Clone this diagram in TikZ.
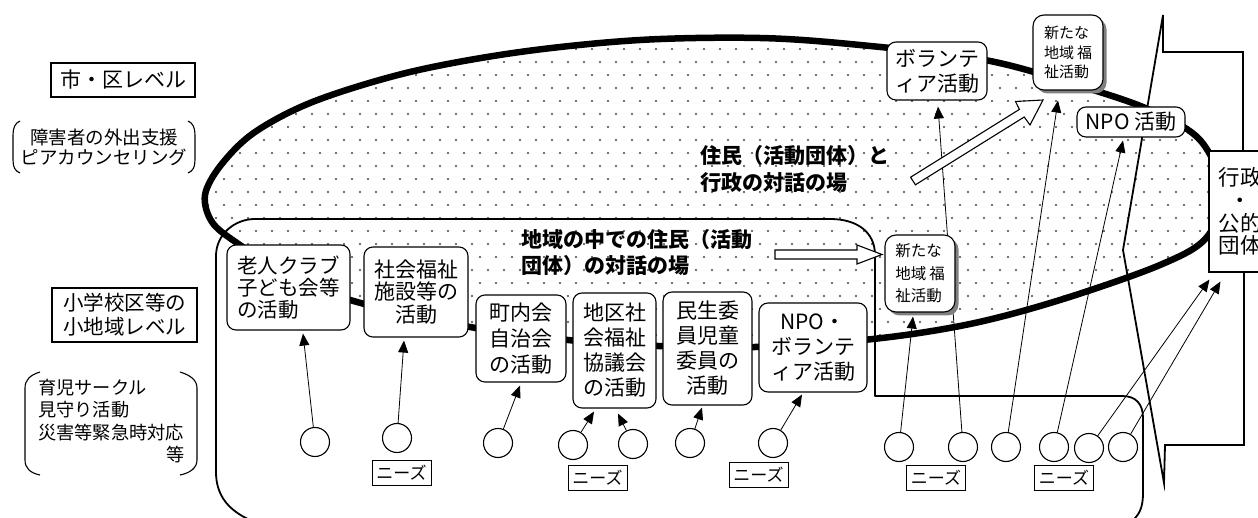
\documentclass[tikz,border=0pt]{standalone}
\usepackage{fontspec}
\setmainfont{Noto Sans CJK JP}
\usetikzlibrary{arrows.meta,shadows}
\pgfdeclarelayer{bg}
\pgfdeclarelayer{conn}
\pgfsetlayers{bg,conn,main}
\def\ellpath{plot[smooth cycle, tension=0.55] coordinates {(205,195) (221,165) (255,132) (315,101) (410,72) (520,52) (640,40) (760,38) (860,45) (985,60) (1080,86) (1150,110) (1200,140) (1222,190) (1207,237) (1160,265) (1060,300) (970,324) (873,339) (755,347) (658,346) (568,340) (470,327) (357,302) (290,276) (237,243) (212,222)}}
\begin{document}
\begin{tikzpicture}[x=1pt,y=-1pt,
  box/.style={draw, line width=1.1pt, rounded corners=9pt, fill=white, inner sep=0pt, align=center},
  shd/.style={general shadow={fill=black!50, shadow xshift=3.5pt, shadow yshift=-3.5pt}},
  plainbox/.style={draw, line width=1.1pt, fill=white, inner sep=0pt, align=center},
  needs/.style={draw, line width=1pt, fill=white, inner sep=0pt, minimum width=59pt, minimum height=25pt, font=\fontsize{17}{20}\selectfont},
  circ/.style={draw, circle, line width=1.1pt, fill=white, minimum size=29pt, inner sep=0pt},
  arr/.style={line width=0.8pt, -{Triangle[length=12pt,width=10pt]}},
  blk/.style={draw, line width=1.1pt, fill=white, line join=miter},
  brk/.style={line width=1.1pt},
  callout/.style={line width=1.8pt, line join=miter},
]
\useasboundingbox (0,0) rectangle (1258,518);

% ---------- background: dots, ellipse, inner region ----------
\begin{pgfonlayer}{bg}
\begin{scope}
\clip \ellpath;
\foreach \j in {0,...,24} {
  \pgfmathsetmacro\yy{36+13*\j}
  \pgfmathsetmacro\off{mod(\j,2)*8}
  \foreach \i in {0,...,64} {
    \fill[black!75] (200+\off+16*\i, \yy) circle[radius=1.2pt];
  }
}
\end{scope}
\draw[line width=6.5pt] \ellpath;
\draw[line width=1.8pt, line join=round]
  (875,396) -- (875,255) .. controls (875,232) and (857,219) .. (830,219)
  -- (255,219) .. controls (235,219) and (216,234) .. (216,256)
  -- (216,472) .. controls (216,495) and (228,510) .. (250,520)
  -- (260,530) -- (1125,530) -- (1133,520)
  .. controls (1140,514) and (1143,506) .. (1143,493)
  -- (1143,418) .. controls (1143,404) and (1136,396) .. (1122,396) -- cycle;
\end{pgfonlayer}

% ---------- left labels ----------
\node[plainbox, minimum width=144pt, minimum height=34pt, font=\fontsize{21}{24}\selectfont] (l1) at (123,80) {市・区レベル};
\node[align=center, inner sep=0pt, font=\fontsize{18.5}{20}\selectfont] (l2) at (104,147) {障害者の外出支援\\ピアカウンセリング};
\draw[brk] (20,121) .. controls (15,123) and (13,128) .. (13,135) -- (13,160) .. controls (13,167) and (15,171) .. (20,173);
\draw[brk] (188,121) .. controls (193,123) and (195,128) .. (195,135) -- (195,160) .. controls (195,167) and (193,171) .. (188,173);
\node[plainbox, minimum width=145pt, minimum height=54pt, font=\fontsize{20.5}{24}\selectfont] (l3) at (124.5,315) {小学校区等の\\小地域レベル};
\node[anchor=west, align=left, inner sep=0pt, font=\fontsize{18.2}{22.7}\selectfont] (l4) at (38,410) {育児サークル\\見守り活動\\災害等緊急時対応};
\node[anchor=east, inner sep=0pt, font=\fontsize{18.2}{22.7}\selectfont] (l5) at (185,455) {等};
\draw[brk] (40,372) .. controls (30,375) and (25,380) .. (25,388) -- (25,460) .. controls (25,468) and (30,473) .. (40,475);
\draw[brk] (180,372) .. controls (190,375) and (197,380) .. (197,388) -- (197,460) .. controls (197,468) and (190,473) .. (180,475);

% ---------- headings ----------
\node[anchor=west, align=left, inner sep=0pt, font=\bfseries\fontsize{21}{27}\selectfont] (h1) at (700,168.5) {住民（活動団体）と\\行政の対話の場};
\node[anchor=west, align=left, inner sep=0pt, font=\bfseries\fontsize{21}{26}\selectfont] (h2) at (521,253) {地域の中での住民（活動\\団体）の対話の場};

% ---------- activity boxes ----------
\node[box, minimum width=123pt, minimum height=85pt, align=left, font=\fontsize{20.5}{22}\selectfont] (b1) at (288.5,287.5) {老人クラブ\\子ども会等\\の活動};
\node[box, minimum width=104pt, minimum height=90pt, font=\fontsize{21}{22.5}\selectfont] (b2) at (416,292) {社会福祉\\施設等の\\活動};
\node[box, minimum width=90pt, minimum height=87pt, font=\fontsize{21}{26}\selectfont] (b3) at (521,338.5) {町内会\\自治会\\の活動};
\node[box, minimum width=83pt, minimum height=115pt, font=\fontsize{21}{25}\selectfont] (b4) at (614.5,350.5) {地区社\\会福祉\\協議会\\の活動};
\node[box, minimum width=89pt, minimum height=113pt, font=\fontsize{21}{25}\selectfont] (b5) at (707.5,348.5) {民生委\\員児童\\委員の\\活動};
\node[box, minimum width=108pt, minimum height=89pt, font=\fontsize{21}{25}\selectfont] (b6) at (813,347.5) {NPO・\\ボランテ\\ィア活動};
\node[box, shd, rounded corners=11pt, minimum width=70pt, minimum height=77pt, align=left, font=\fontsize{15.5}{22.5}\selectfont] (b7) at (920,273.5) {新たな\\地域\hspace{3pt}福\\祉活動};
\node[box, minimum width=100pt, minimum height=58pt, font=\fontsize{21}{25}\selectfont] (b8) at (937,71) {ボランテ\\ィア活動};
\node[box, shd, rounded corners=11pt, minimum width=70pt, minimum height=75pt, align=left, font=\fontsize{15}{19.5}\selectfont] (b9) at (1068,52.5) {新たな\\地域\hspace{3pt}福\\祉活動};
\node[box, minimum width=108pt, minimum height=30pt, font=\fontsize{21}{25}\selectfont] (b10) at (1131,122) {NPO 活動};
\node[plainbox, minimum width=62pt, minimum height=121pt, font=\fontsize{21.5}{22.7}\selectfont] (b11) at (1240,211.5) {行政\\・\\公的\\団体};

% ---------- block arrows ----------
\draw[blk] (775,250) -- (857,250) -- (857,245) -- (882,254.5) -- (857,264) -- (857,259) -- (775,259) -- cycle;
\draw[blk] (910.6,177.2) -- (1019.4,109.4) -- (1015.5,101.5) -- (1043,100) -- (1030,125) -- (1024.2,117.0) -- (915.4,184.8) -- cycle;

% ---------- residents (circles) and needs ----------
\node[circ] (c1) at (315,442) {};
\node[circ] (c2) at (397,438) {};
\node[circ] (c3) at (498,443) {};
\node[circ] (c4) at (573,445) {};
\node[circ] (c5) at (633,444) {};
\node[circ] (c6) at (690,443) {};
\node[circ] (c7) at (773,443) {};
\node[circ] (c8) at (899,447) {};
\node[circ] (c9) at (963,447) {};
\node[circ] (c10) at (1006,447) {};
\node[circ] (c11) at (1054,447) {};
\node[circ] (c12) at (1089,448) {};
\node[circ] (c13) at (1123,447) {};

\node[needs] (n1) at (401.5,473) {ニーズ};
\node[needs] (n2) at (597.5,477.5) {ニーズ};
\node[needs] (n3) at (758.5,474.5) {ニーズ};
\node[needs] (n4) at (936,478) {ニーズ};
\node[needs] (n5) at (1064,478) {ニーズ};

% ---------- connectors ----------
\begin{pgfonlayer}{conn}
\draw[callout] (1243,151) -- (1243,52) -- (1163,52) -- (1163,15) -- (1123,250) -- (1164,483) -- (1165,445) -- (1244,445) -- (1244,272);
\draw[arr] (c1) -- ([xshift=14.5pt,yshift=-3pt]b1.south);
\draw[arr] (c2) -- ([xshift=-12pt,yshift=-3pt]b2.south);
\draw[arr] (c3) -- ([xshift=-1pt,yshift=-3pt]b3.south);
\draw[arr] (c4) -- ([xshift=-20.5pt,yshift=-3pt]b4.south);
\draw[arr] (c5) -- ([xshift=3.5pt,yshift=-5pt]b4.south);
\draw[arr] (c6) -- ([xshift=-5.5pt,yshift=-2pt]b5.south);
\draw[arr] (c7) -- ([xshift=-11pt,yshift=-2pt]b6.south);
\draw[arr] (c8) -- ([xshift=-7pt,yshift=-4pt]b7.south);
\draw[arr] (c9) -- ([xshift=1pt,yshift=-6pt]b8.south);
\draw[arr] (c10) -- ([xshift=-10pt,yshift=-10pt]b9.south);
\draw[arr] (c11) -- ([xshift=-8pt,yshift=-3pt]b10.south);
\draw[arr] (c12) -- ([xshift=1pt,yshift=-7pt]b11.south west);
\draw[arr] (c13) -- ([xshift=12pt,yshift=-9pt]b11.south west);
\end{pgfonlayer}
\end{tikzpicture}
\end{document}
